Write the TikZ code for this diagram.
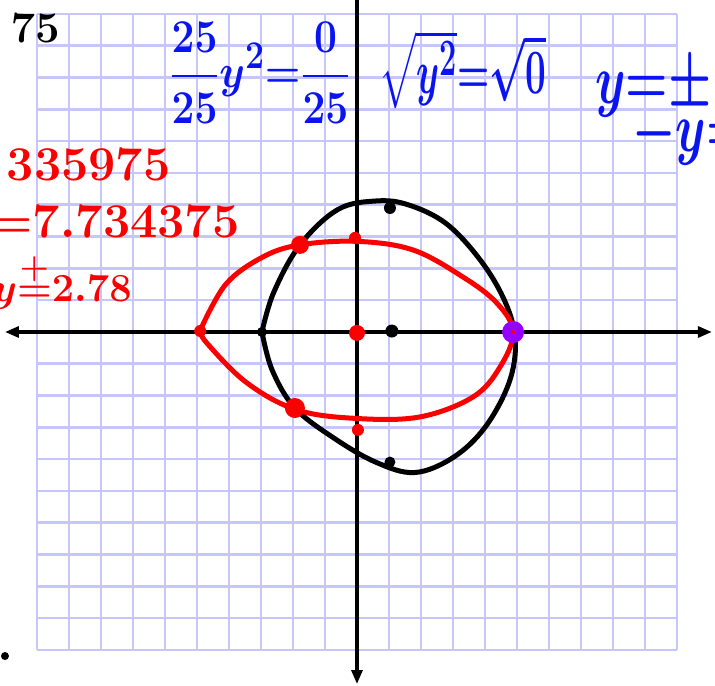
\documentclass[tikz,border=0pt]{standalone}
\usepackage{amsmath,amssymb}
\usepackage{tikz}
\usetikzlibrary{arrows.meta,positioning,calc}
\definecolor{gridlav}{RGB}{198,198,250}
\definecolor{inkblue}{RGB}{10,20,240}
\definecolor{inkred}{RGB}{250,0,0}
\definecolor{inkpurple}{RGB}{150,0,255}

\begin{document}
\begin{tikzpicture}[
    x=32pt, y=31.8pt,
    grid line/.style={gridlav, line width=2.6pt},
    axis/.style={line width=3.2pt, {Triangle[length=14pt,width=11pt]}-{Triangle[length=14pt,width=11pt]}},
    curve black/.style={line width=5pt, line join=round, line cap=round},
    curve red/.style={line width=5pt, inkred, line join=round, line cap=round},
    dot/.style={circle, inner sep=0pt, minimum size=#1},
    ink/.style={font=\fontsize{24.88}{28}\selectfont\boldmath, inner sep=0pt, scale=1.95}
]
    \useasboundingbox (-11.156,-11.132) rectangle (11.188,10.44);

    % Grille
    \foreach \i in {-10,...,10} {
        \draw[grid line] (\i,-10) -- (\i,10);
        \draw[grid line] (-10,\i) -- (10,\i);
    }

    % Axes
    \coordinate (xl) at (-11.0,0);
    \coordinate (xr) at (11.09,0);
    \coordinate (yt) at (0,10.8);
    \coordinate (yb) at (0,-11.07);
    \draw[axis] (xl) -- (xr);
    \draw[line width=3.2pt, -{Triangle[length=14pt,width=11pt]}] (yt) -- (yb);

    % Courbe noire
    \draw[curve black] plot[smooth, tension=0.6] coordinates {
        (-2.97,0) (-2.6,1.25) (-1.78,2.74) (-0.6,3.85) (0.6,4.12)
        (1.6,4.0) (2.8,3.4) (3.9,2.2) (4.65,0.9) (4.95,-0.3) (4.75,-1.6)
        (4.0,-3.0) (3.0,-3.95) (1.8,-4.42) (0.6,-4.1) (-0.7,-3.35)
        (-1.94,-2.39) (-2.65,-1.2) (-2.97,0)};

    % Courbe rouge
    \draw[curve red] plot[smooth, tension=0.6] coordinates {
        (-4.9,0.05) (-4.1,1.5) (-2.94,2.36) (-1.78,2.74) (0,2.85)
        (1.75,2.58) (3.31,1.73) (4.37,0.91) (4.88,0) (4.47,-1.1)
        (3.63,-2.04) (1.97,-2.67) (0,-2.72) (-1.88,-2.45) (-3.44,-1.6)
        (-4.69,-0.35) (-4.9,0.05)};

    % Points noirs
    \node[dot=10pt, fill=black] (bl) at (-2.97,0) {};
    \node[dot=13pt, fill=black] (bc) at (1.09,0.03) {};
    \node[dot=12pt, fill=black] (bt) at (1.03,3.9) {};
    \node[dot=11pt, fill=black] (bb) at (1.03,-4.09) {};

    % Points rouges
    \node[dot=16pt, fill=inkred] (rc) at (0,-0.03) {};
    \node[dot=12pt, fill=inkred] (rt) at (-0.06,2.96) {};
    \node[dot=12pt, fill=inkred] (rb) at (0.03,-3.08) {};
    \node[dot=12pt, fill=inkred] (rl) at (-4.9,0.03) {};
    \node[dot=18pt, fill=inkred] (ru) at (-1.78,2.74) {};
    \node[dot=20pt, fill=inkred] (rd) at (-1.94,-2.39) {};

    % Intersection
    \node[dot=22pt, fill=inkpurple] (pv) at (4.88,0) {};
    \node[dot=4pt, fill=inkred] at (pv) {};

    % Notes
    \node[ink, scale=0.9] (n75) at (-10.06,9.56) {$75$};
    \node[ink, inkblue, xscale=0.84, yscale=0.97] (eqfrac) at (-3.03,8.15)
        {$\displaystyle\frac{25}{25}y^2{=}\frac{0}{25}$};
    \node[ink, inkblue, xscale=0.76, yscale=1.3] (eqroot) at (3.3,8.25)
        {$\sqrt{y^2}{=}\sqrt{0}$};
    \node[ink, inkblue, anchor=west, yscale=1.45] (eqpm) at (7.44,7.67) {$y{=}\pm$};
    \node[ink, inkblue, anchor=west, yscale=1.45] (eqneg) at (8.6,6.15) {$-y{=}$};
    \node[ink, inkred, anchor=east] (val1) at (-5.81,5.25) {$335975$};
    \node[ink, inkred, anchor=east] (val2) at (-3.66,3.46) {${=}7.734375$};
    \node[ink, inkred, anchor=east, scale=0.82] (val3) at (-7.03,1.6) {$y{\overset{+}{=}}2.78$};
    \node[dot=8pt, fill=black] (spk) at (-11.0,-10.19) {};
\end{tikzpicture}
\end{document}
